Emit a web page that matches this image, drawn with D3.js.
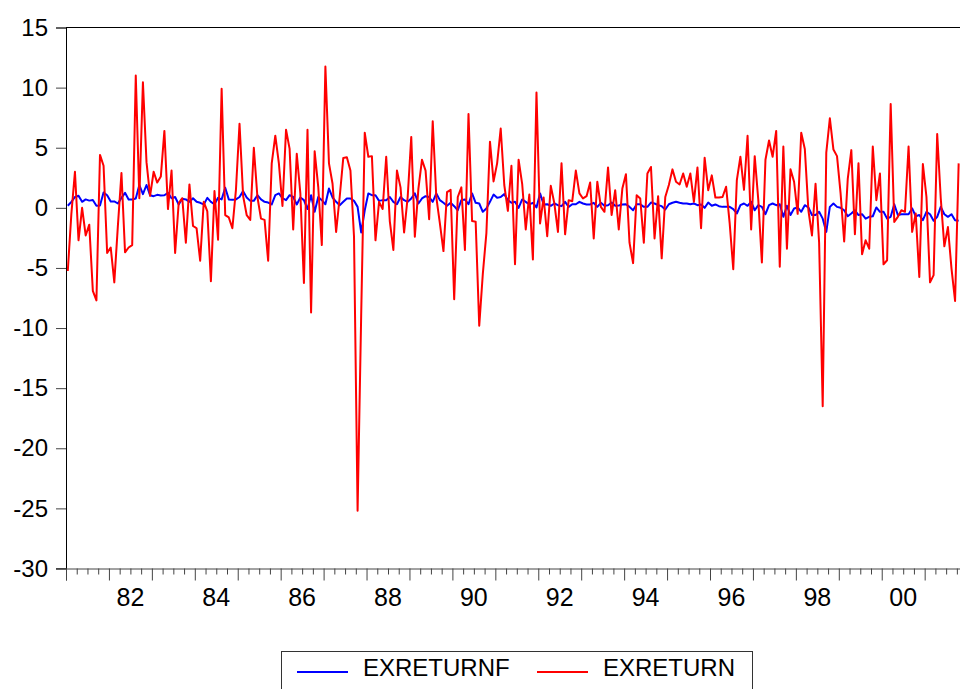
<!DOCTYPE html>
<html>
<head>
<meta charset="utf-8">
<script src="https://cdn.jsdelivr.net/npm/d3@7"></script>
<style>
  body { margin: 0; background: #fff; }
  svg text { font-family: Arial, "Liberation Sans", sans-serif; fill: #000; }
</style>
</head>
<body>
<div id="chart"></div>
<script>
// monthly series, first observation 1981m01
var startYear = 1981;
var endYear = 2002;

var exreturn = [
  -5.25, -0.5, 3.0, -2.7, 0, -2.3, -1.4, -6.9, -7.7, 4.4, 3.5, -3.75,
  -3.3, -6.2, -1.5, 2.9, -3.7, -3.3, -3.1, 11.0, 0.8, 10.45, 3.8, 1.0,
  3.0, 2.1, 2.6, 6.4, -0.1, 3.1, -3.75, 0.4, 0.8, -2.9, 1.95, -1.5,
  -1.7, -4.4, 0.5, -0.3, -6.1, 1.4, -2.65, 9.9, -0.6, -0.8, -1.7, 1.5,
  7.0, 1.0, -0.6, -1.0, 5.0, 0.9, -0.9, -1.0, -4.4, 3.7, 6.0, 3.7,
  0.15, 6.5, 4.9, -1.8, 4.5, 1.2, -6.25, 6.5, -8.7, 4.7, 1.75, -3.1,
  11.75, 3.7, 2.0, -2.0, 0.9, 4.15, 4.2, 3.1, -2.4, -25.2, -9.0, 6.25,
  4.25, 4.3, -2.7, 0.5, -0.1, 4.25, -1.1, -3.5, 3.1, 1.7, -2.05, 0.9,
  5.9, -2.4, 1.6, 4.0, 3.1, -0.95, 7.2, 0.9, -1.3, -3.6, 1.3, 1.5,
  -7.6, 0.9, 1.7, -3.5, 7.8, -1.1, -1.15, -9.8, -5.5, -2.1, 5.5, 2.2,
  3.7, 6.6, 1.9, -0.25, 3.5, -4.7, 4.0, 2.0, -1.8, 1.1, -4.3, 9.6,
  -1.3, 0.86, -2.36, 1.83, 0.36, -2.0, 3.7, -2.2, 0.64, 0.55, 3.1, 1.2,
  0.78, 0.97, 2.1, -2.55, 2.17, 0.08, -0.33, 3.36, -0.6, 1.47, -1.8, 1.6,
  2.8, -2.9, -4.6, 1.05, 0.78, -2.9, 2.86, 3.4, -2.55, 0.97, -4.2, 0.9,
  1.9, 3.2, 2.17, 1.94, 2.86, 1.75, 2.86, 0.5, 3.36, -1.7, 4.17, 1.47,
  2.7, 0.86, 0.86, 0.9, 1.75, -1.3, -5.1, 2.3, 4.25, 1.5, 6.0, -1.8,
  4.3, 0.64, -4.55, 4.0, 5.6, 4.25, 6.4, -4.9, 5.1, -3.4, 3.2, 2.17,
  -0.5, 6.25, 4.9, -0.2, -2.3, 2.0, -2.9, -16.5, 4.6, 7.45, 4.85, 4.3,
  1.2, -2.8, 2.4, 4.8, -2.2, 3.7, -3.86, -2.7, -3.4, 5.1, 0.64, 2.86,
  -4.7, -4.36, 8.64, -1.17, -0.75, -0.2, -0.33, 5.1, -2.0, -0.47, -5.75, 3.64,
  0.9, -6.2, -5.6, 6.14, 0.78, -3.2, -1.6, -5.05, -7.75, 3.7
];

var exreturnf = [
  0.17, 0.5, 0.9, 1.0, 0.5, 0.7, 0.6, 0.65, 0.17, 0.2, 1.28, 1.05,
  0.53, 0.53, 0.36, 0.83, 1.25, 0.7, 0.7, 0.78, 1.9, 1.14, 1.9, 1.05,
  0.97, 1.08, 1.03, 1.05, 1.25, 0.8, 0.9, 0.28, 0.75, 0.7, 0.5, 0.8,
  0.5, 0.42, 0.28, 0.83, 0.5, 0.3, 0.83, 0.7, 1.67, 0.7, 0.67, 0.7,
  0.9, 1.39, 0.86, 0.58, 0.58, 1.05, 0.7, 0.5, 0.44, 0.28, 1.05, 1.2,
  0.8, 0.64, 1.05, 0.9, 0.28, 0.86, 0.64, -0.1, 1.05, -0.33, 0.9, 0.64,
  0.3, 1.6, 0.86, 0.5, 0.22, 0.5, 0.78, 0.78, 0.58, 0.08, -2.05, -0.2,
  1.2, 1.05, 1.05, 0.58, 0.64, 0.64, 0.9, 0.5, 0.3, 0.9, 0.64, 0.5,
  0.78, 1.2, 0.36, 0.78, 0.97, 0.9, 0.5, 1.2, 0.64, 0.42, 0.17, 0.42,
  0.14, -0.2, 0.64, 0.7, 0.3, 1.2, 0.42, 0.36, -0.33, -0.05, 0.5, 1.1,
  0.83, 0.9, 1.14, 0.64, 0.42, 0.5, 0, 0.7, 0.5, 0.28, 0.42, 0.03,
  1.2, 0.28, 0.3, 0.17, 0.36, 0.22, 0.14, 0.5, 0.08, 0.3, 0.3, 0.5,
  0.36, 0.28, 0.28, 0.42, 0.08, 0.42, 0.17, 0.22, 0.44, 0.17, 0.2, 0.28,
  0.3, 0.08, -0.2, 0.3, 0.3, 0.08, 0.08, 0.44, 0.36, 0.22, 0.14, -0.14,
  0.3, 0.42, 0.5, 0.42, 0.36, 0.36, 0.3, 0.36, 0.22, 0.28, 0, 0.44,
  0.17, 0.28, 0.14, 0.08, 0.08, 0.08, -0.1, -0.47, 0.22, 0.36, 0.17, 0.5,
  -0.2, 0.22, 0.08, -0.53, 0.22, 0.36, 0.22, 0.3, -0.75, 0.17, -0.6, -0.05,
  0.03, -0.33, 0.22, 0.03, -0.6, -0.6, -0.33, -0.9, -2.0, 0.08, 0.36, 0.08,
  0, -0.2, -0.7, -0.47, -0.2, -0.6, -0.53, -0.9, -0.75, -0.7, 0.03, -0.33,
  -0.33, -0.9, -0.75, 0.3, -0.6, -0.53, -0.53, -0.53, -0.05, -0.7, -0.6, -1.03,
  -0.33, -0.53, -1.08, -0.75, 0.08, -0.53, -0.75, -0.53, -1.03, -1.08
];

var yTicks = [-30, -25, -20, -15, -10, -5, 0, 5, 10, 15];
var yearLabels = [1982, 1984, 1986, 1988, 1990, 1992, 1994, 1996, 1998, 2000];
var seriesNames = ["EXRETURNF", "EXRETURN"];
var seriesColors = ["#0000ff", "#ff0000"];

var width = 960, height = 689;
var plotLeft = 66, plotTop = 27.5, plotRight = 967.6, plotBottom = 568.5;

var svg = d3.select("#chart").append("svg")
  .attr("width", width)
  .attr("height", height);

var x = d3.scaleLinear().domain([startYear, endYear]).range([plotLeft, plotRight]);
var y = d3.scaleLinear().domain([-30, 15]).range([plotBottom, plotTop]);

function monthPos(i) { return startYear + (i + 0.5) / 12; }

// frame top line
svg.append("line")
  .attr("x1", plotLeft).attr("x2", width)
  .attr("y1", plotTop).attr("y2", plotTop)
  .attr("stroke", "#000").attr("stroke-width", 1);

// y axis (plain hyphen for negatives, like the original)
var yAxis = d3.axisLeft(y).tickValues(yTicks).tickSize(10).tickPadding(8)
  .tickFormat(function (d) { return String(d); });
var gy = svg.append("g").attr("transform", "translate(" + plotLeft + ",0)").call(yAxis);
gy.select(".domain").attr("stroke", "#000");
gy.selectAll(".tick line").attr("stroke", "#444");
gy.selectAll("text").style("font-size", "24px").attr("fill", "#000");

// x axis: years major, quarters minor
var years = d3.range(startYear, endYear);
var quarters = [];
years.forEach(function (yr) { quarters.push(yr + 0.25, yr + 0.5, yr + 0.75); });

var gxMinor = svg.append("g").attr("transform", "translate(0," + plotBottom + ")")
  .call(d3.axisBottom(x).tickValues(quarters).tickSize(6).tickFormat(""));
gxMinor.select(".domain").remove();
gxMinor.selectAll(".tick line").attr("stroke", "#444");

var gx = svg.append("g").attr("transform", "translate(0," + plotBottom + ")")
  .call(d3.axisBottom(x).tickValues(years).tickSize(12).tickFormat(""));
gx.select(".domain").attr("stroke", "#444");
gx.selectAll(".tick line").attr("stroke", "#444");

svg.append("line")
  .attr("x1", plotLeft - 10).attr("x2", plotLeft)
  .attr("y1", plotBottom).attr("y2", plotBottom)
  .attr("stroke", "#444");

svg.selectAll(".xlab")
  .data(yearLabels)
  .enter().append("text")
  .attr("class", "xlab")
  .attr("x", function (d) { return x(d + 0.5); })
  .attr("y", 606)
  .attr("text-anchor", "middle")
  .style("font-size", "25px")
  .text(function (d) { return String(d).slice(2); });

// series lines
var line = d3.line()
  .x(function (d, i) { return x(monthPos(i)); })
  .y(function (d) { return y(d); });

svg.append("path")
  .datum(exreturnf)
  .attr("fill", "none")
  .attr("stroke", seriesColors[0])
  .attr("stroke-width", 2)
  .attr("stroke-linejoin", "round")
  .attr("d", line);

svg.append("path")
  .datum(exreturn)
  .attr("fill", "none")
  .attr("stroke", seriesColors[1])
  .attr("stroke-width", 2)
  .attr("stroke-linejoin", "round")
  .attr("d", line);

// legend
svg.append("rect")
  .attr("x", 281.5).attr("y", 651.5)
  .attr("width", 471).attr("height", 60)
  .attr("fill", "none")
  .attr("stroke", "#333");

var legX = [297, 537];
var legTextX = [363, 603];
seriesNames.forEach(function (name, k) {
  svg.append("line")
    .attr("x1", legX[k]).attr("x2", legX[k] + 51)
    .attr("y1", 672).attr("y2", 672)
    .attr("stroke", seriesColors[k])
    .attr("stroke-width", 2);
  svg.append("text")
    .attr("x", legTextX[k]).attr("y", 676)
    .style("font-size", "24px")
    .text(name);
});
</script>
</body>
</html>
